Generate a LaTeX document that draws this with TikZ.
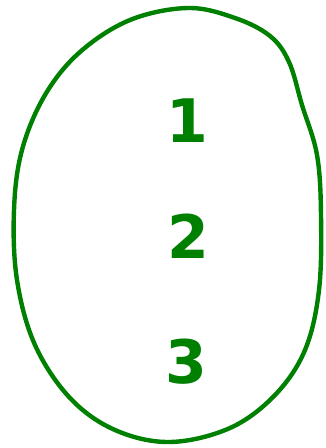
\documentclass[tikz,border=0pt]{standalone}
\usepackage{fontspec}
\newfontfamily\digitfont{DejaVu Sans}
\definecolor{ovalgreen}{RGB}{0,128,0}
\begin{document}
\begin{tikzpicture}[x=1pt,y=-1pt,
  outline/.style={draw=ovalgreen,line width=4.4pt,line join=round},
  num/.style={text=ovalgreen,font=\digitfont\bfseries\fontsize{60}{60}\selectfont,inner sep=0pt,anchor=base}]
\useasboundingbox (0,0) rectangle (325,448);
\draw[outline] plot[smooth cycle,tension=0.6] coordinates {
 (188,8) (235,18) (270,36) (289,62) (302,105) (317,155)
 (321,215) (319,290) (305,350) (275,395) (230,428) (170,442)
 (115,430) (70,398) (35,345) (17,280) (14,210) (22,150) (45,95)
 (80,52) (130,20)};
\node[num] (n1) at (187,142) {1};
\node[num] (n2) at (188,258) {2};
\node[num] (n3) at (186,383) {3};
\end{tikzpicture}
\end{document}
